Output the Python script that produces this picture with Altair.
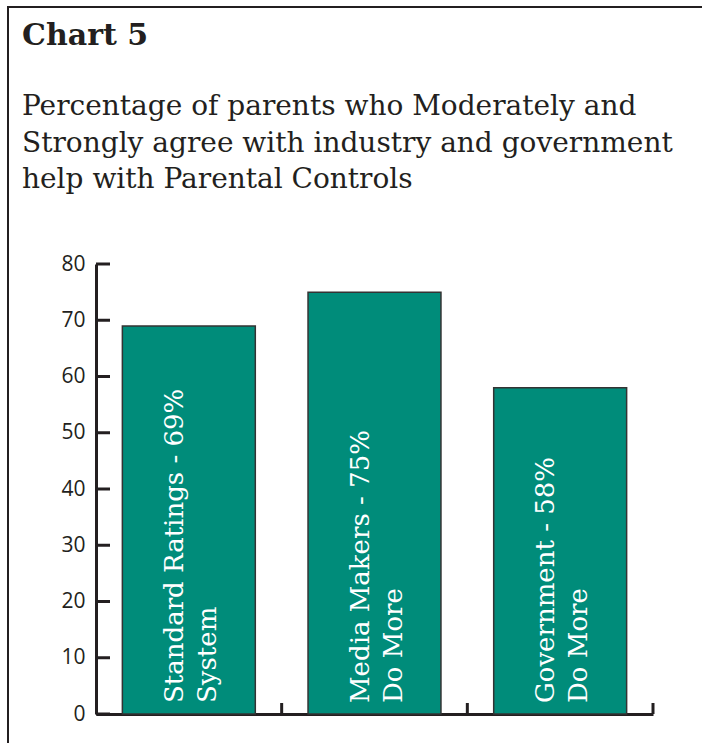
import altair as alt
import pandas as pd

# ---- data ----
name_line1 = ["Standard Ratings", "Media Makers", "Government"]
name_line2 = ["System", "Do More", "Do More"]
values = [69, 75, 58]
y_ticks = [0, 10, 20, 30, 40, 50, 60, 70, 80]

title_text = "Chart 5"
subtitle_lines = [
    "Percentage of parents who Moderately and",
    "Strongly agree with industry and government",
    "help with Parental Controls",
]

cats = [f"{a} {b}" for a, b in zip(name_line1, name_line2)]
labels = [f"{a} - {v}%\n{b}" for a, b, v in zip(name_line1, name_line2, values)]
df = pd.DataFrame({"cat": cats, "value": values, "label": labels})
ticks_df = pd.DataFrame({"t": y_ticks})
one_df = pd.DataFrame({"f": [0]})

W, H = 557, 450
INK = "#231f20"
TEAL = "#008c7a"

x_scale = alt.Scale(domain=cats, paddingInner=0, paddingOuter=0)
y_scale = alt.Scale(domain=[0, 80], nice=False)

x_enc = alt.X("cat:N", scale=x_scale, sort=cats,
              axis=alt.Axis(title=None, labels=False, ticks=False, domain=True,
                            domainColor=INK, domainWidth=3, grid=False))
y_enc = alt.Y("value:Q", scale=y_scale,
              axis=alt.Axis(title=None, values=y_ticks, ticks=False, grid=False,
                            domain=True, domainColor=INK, domainWidth=3,
                            labelFont="Open Sans", labelFontSize=21, labelColor=INK,
                            labelPadding=11))

frame_top = alt.Chart(one_df).mark_rule(color=INK, strokeWidth=2).encode(
    x=alt.value(-88), x2=alt.value(W + 200), y=alt.value(-257)
)
frame_left = alt.Chart(one_df).mark_rule(color=INK, strokeWidth=2).encode(
    x=alt.value(-88), y=alt.value(-258), y2=alt.value(H + 200)
)

title_mark = alt.Chart(one_df).mark_text(
    text=title_text, align="left", baseline="alphabetic",
    font="DejaVu Serif", fontSize=30, fontWeight="bold", color=INK
).encode(x=alt.value(-74), y=alt.value(-219))

subtitle_mark = alt.Chart(one_df).mark_text(
    text=subtitle_lines, align="left", baseline="alphabetic",
    font="DejaVu Serif", fontSize=28, color=INK, lineHeight=36.5
).encode(x=alt.value(-74), y=alt.value(-149))

bars = alt.Chart(df).mark_bar(
    width={"band": 0.716}, color=TEAL, stroke="#333333", strokeWidth=1.5
).encode(x=x_enc, y=y_enc)

texts = alt.Chart(df).mark_text(
    angle=270, align="left", baseline="alphabetic", dx=11, dy=-6,
    font="DejaVu Serif", fontSize=26, color="white", lineBreak="\n", lineHeight=33
).encode(x=alt.X("cat:N", scale=x_scale, sort=cats), y=alt.datum(0), text="label:N")

ytick_rules = alt.Chart(ticks_df).mark_rule(color=INK, strokeWidth=3).encode(
    y=alt.Y("t:Q", scale=y_scale), x=alt.value(0), x2=alt.value(14)
)

xtick_rules = alt.Chart(df).mark_rule(color=INK, strokeWidth=3).encode(
    x=alt.X("cat:N", scale=x_scale, sort=cats, bandPosition=1),
    y=alt.value(H - 11), y2=alt.value(H)
)

chart = alt.layer(
    frame_top, frame_left, title_mark, subtitle_mark, bars, texts, ytick_rules, xtick_rules
).properties(
    width=W, height=H,
    autosize=alt.AutoSizeParams(type="none"),
    padding={"left": 96, "top": 264, "right": 49, "bottom": 29},
    background="white",
).configure_view(stroke=None)

chart.save("out.html", embed_options={"renderer": "svg", "actions": False})
